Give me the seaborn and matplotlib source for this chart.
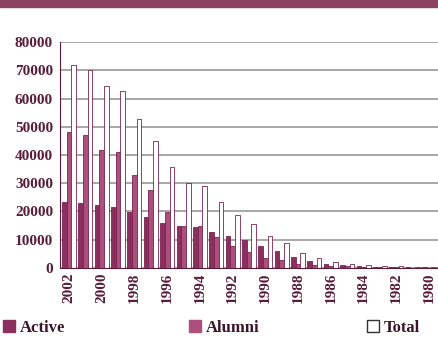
import matplotlib
matplotlib.use("Agg")
import matplotlib.pyplot as plt
from matplotlib.patches import Patch, Rectangle
import seaborn as sns
import pandas as pd

years = [str(y) for y in range(2002, 1979, -1)]
active = [23500, 23000, 22300, 21700, 19800, 18000, 16000, 15000, 14500, 12700,
          11300, 9900, 7800, 6000, 3900, 2500, 1300, 900, 700, 500, 400, 300, 200]
alumni = [48100, 47000, 41800, 41000, 32900, 27600, 19800, 15000, 15000, 11000,
          7800, 5700, 3500, 2900, 1400, 1000, 700, 600, 500, 300, 200, 100, 100]
total = [71900, 70100, 64400, 62700, 52700, 45000, 35800, 30100, 29000, 23400,
         18800, 15600, 11300, 8900, 5300, 3500, 2000, 1500, 1200, 800, 600, 400, 300]
series = ["Active", "Alumni", "Total"]

rows = []
for i, y in enumerate(years):
    rows.append((y, "Active", active[i]))
    rows.append((y, "Alumni", alumni[i]))
    rows.append((y, "Total", total[i]))
df = pd.DataFrame(rows, columns=["year", "series", "value"])

sns.set_style("white")
plt.rcParams["font.family"] = ["Liberation Serif", "DejaVu Serif"]

c_active = "#8a2f5e"
c_alumni = "#ad4f7d"
c_edge = "#7a2450"
palette = {"Active": c_active, "Alumni": c_alumni, "Total": "white"}

fig = plt.figure(figsize=(4.38, 3.48), dpi=100)
ax = fig.add_axes([0.137, 0.23, 0.863, 0.649])

sns.barplot(data=df, x="year", y="value", hue="series", order=years,
            hue_order=series, palette=palette, width=0.86, ax=ax,
            edgecolor=c_edge, linewidth=0.6, saturation=1, legend=False)

ax.set_ylim(0, 80000)
ax.set_xlim(-0.55, len(years) - 0.45)
ax.set_yticks(range(0, 80001, 10000))
ax.set_yticklabels([str(v) for v in range(0, 80001, 10000)],
                   fontsize=11, fontweight="bold", color="#5a1d3a")
ax.yaxis.grid(True, color="#8f8f8f", linewidth=1.1)
ax.set_axisbelow(True)
ax.set_xticks(range(0, len(years), 2))
ax.set_xticklabels(years[::2], rotation=90, fontsize=11, fontweight="bold",
                   color="#5a1d3a")
ax.tick_params(axis="x", length=0, pad=3)
ax.tick_params(axis="y", length=0, pad=5)
ax.set_xlabel("")
ax.set_ylabel("")
for s in ["top", "right"]:
    ax.spines[s].set_visible(False)
ax.spines["left"].set_color("#5a1d3a")
ax.spines["bottom"].set_color("#5a1d3a")

fig.patches.append(Rectangle((0, 1 - 7 / 348), 1, 7 / 348, transform=fig.transFigure,
                             color="#8a4462", zorder=0))

handles = [Patch(facecolor=c_active, edgecolor=c_active),
           Patch(facecolor=c_alumni, edgecolor=c_alumni),
           Patch(facecolor="white", edgecolor="#333333")]
leg_x = [0.0, 0.425, 0.83]
for h, lab, x in zip(handles, series, leg_x):
    fig.legend([h], [lab], loc="center left", bbox_to_anchor=(x, 0.057),
               frameon=False, handlelength=0.7, handleheight=0.7,
               handletextpad=0.3, borderaxespad=0.0, borderpad=0.2,
               prop={"size": 12, "weight": "bold"}, labelcolor="#3a1428")

fig.savefig("out.png", dpi=100)
